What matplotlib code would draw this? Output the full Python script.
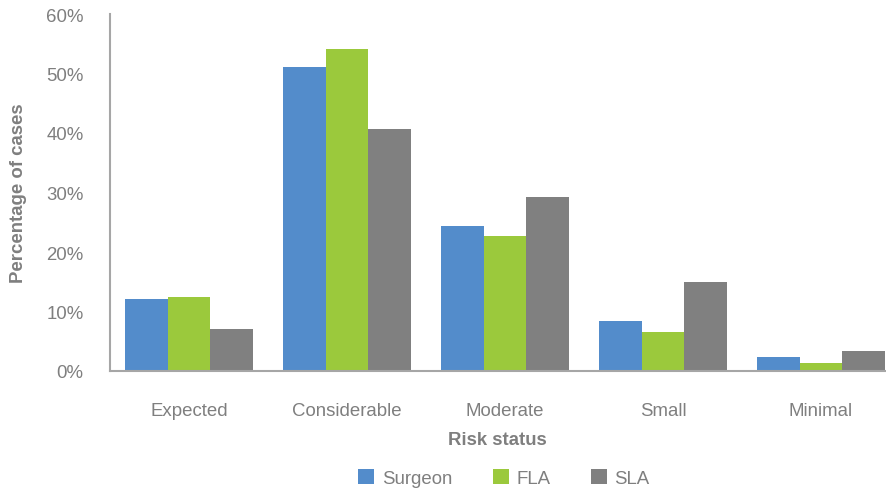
import matplotlib.pyplot as plt
import numpy as np
from matplotlib.ticker import PercentFormatter

categories = ["Expected", "Considerable", "Moderate", "Small", "Minimal"]
series_names = ["Surgeon", "FLA", "SLA"]
surgeon = [12.1, 51.1, 24.4, 8.4, 2.4]
fla = [12.4, 54.1, 22.7, 6.6, 1.3]
sla = [7.1, 40.7, 29.2, 15.0, 3.4]
y_ticks = [0, 10, 20, 30, 40, 50, 60]

COLORS = ["#538CCB", "#9BC93C", "#808080"]
TEXT = "#7F7F7F"
AXIS = "#A6A6A6"

plt.rcParams["font.family"] = ["Liberation Sans", "DejaVu Sans"]
plt.rcParams["font.size"] = 13.4

fig = plt.figure(figsize=(8.86, 4.89), dpi=100)
ax = fig.add_axes([110 / 886, 117 / 489, 775 / 886, 357 / 489])

x = np.arange(len(categories))
width = 0.27
for i, (name, values) in enumerate(zip(series_names, [surgeon, fla, sla])):
    ax.bar(x + (i - 1) * width, values, width=width, color=COLORS[i], label=name)

ax.set_xlim(-0.5, 4.405)
ax.set_ylim(0, 60)
ax.set_yticks(y_ticks)
ax.yaxis.set_major_formatter(PercentFormatter(decimals=0))
ax.set_xticks(x, categories)
ax.tick_params(axis="both", length=0, colors=TEXT)
ax.tick_params(axis="y", pad=19)
ax.tick_params(axis="x", pad=22)

for side in ["top", "right"]:
    ax.spines[side].set_visible(False)
for side in ["left", "bottom"]:
    ax.spines[side].set_color(AXIS)
    ax.spines[side].set_linewidth(1.5)

ax.set_xlabel("Risk status", color=TEXT, fontweight="bold", labelpad=9)
ax.set_ylabel("Percentage of cases", color=TEXT, fontweight="bold", labelpad=14)

fig.legend(
    loc="center",
    bbox_to_anchor=(504 / 886, 1 - 479 / 489),
    ncol=3,
    frameon=False,
    handlelength=0.85,
    handleheight=0.85,
    handletextpad=0.4,
    columnspacing=2.2,
    labelcolor=TEXT,
)

fig.savefig("out.png", dpi=100)
